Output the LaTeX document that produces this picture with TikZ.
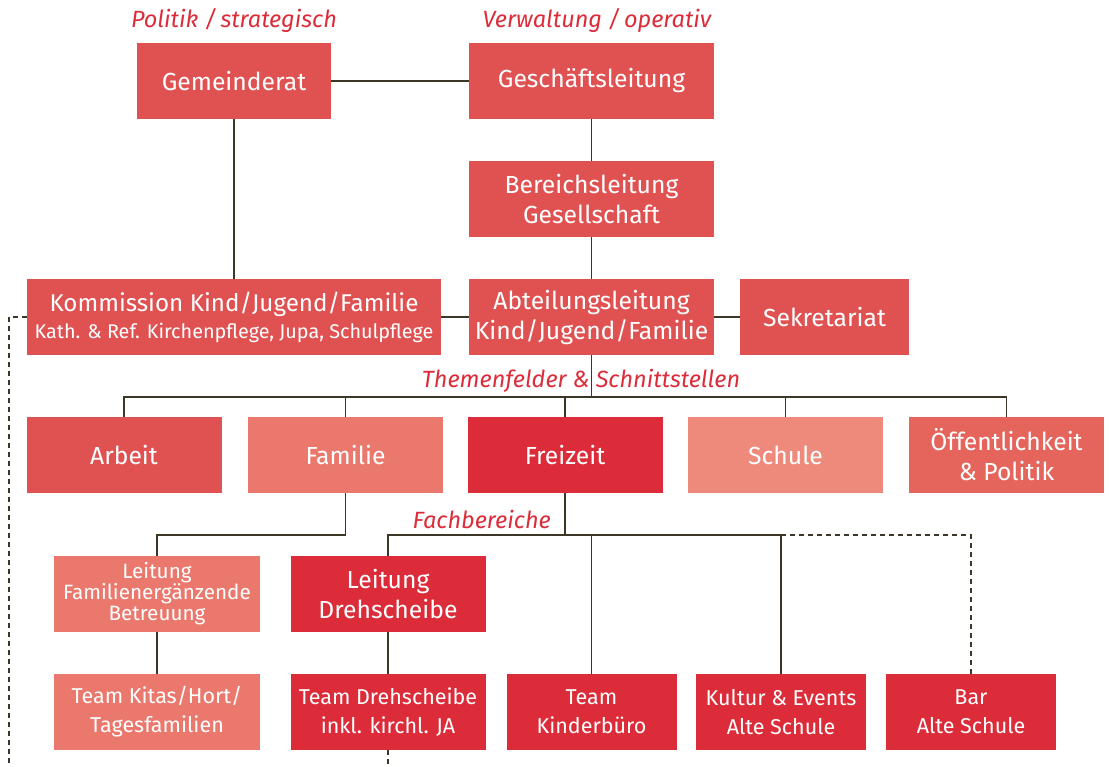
\documentclass[tikz,border=0pt]{standalone}
\usepackage{fontspec}
\setmainfont{Fira Sans}
\definecolor{cMain}{HTML}{E05252}
\definecolor{cFam}{HTML}{EB786D}
\definecolor{cFrei}{HTML}{DC2C39}
\definecolor{cSchule}{HTML}{EE8A7C}
\definecolor{cOeff}{HTML}{E5645C}
\definecolor{cLine}{HTML}{3B3626}
\definecolor{cLabel}{HTML}{DC2C39}
\tikzset{
  box/.style={rectangle, inner sep=0pt, text=white, align=center, minimum height=76pt,
    font=\fontsize{24.7}{30}\selectfont},
  small/.style={font=\fontsize{21.5}{29}\selectfont},
  lbl/.style={text=cLabel, font=\fontsize{23.5}{26}\selectfont\itshape, inner sep=0pt},
  conn/.style={draw=cLine, line width=1.5pt},
  dconn/.style={draw=cLine, line width=1.5pt, dash pattern=on 5pt off 4pt},
}
\begin{document}
\begin{tikzpicture}[x=1pt,y=-1pt]
\useasboundingbox (0,0) rectangle (1109,767);
% labels
\node[lbl] (lpol) at (234,21) {Politik /\,strategisch};
\node[lbl] (lver) at (597,21) {Verwaltung /\,operativ};
% top
\node[box, fill=cMain, minimum width=194pt] (gr) at (234,81) {Gemeinderat};
\node[box, fill=cMain, minimum width=245pt] (gl) at (591.5,81) {Geschäftsleitung};
\node[box, fill=cMain, minimum width=245pt] (bl) at (591.5,199) {Bereichsleitung\\Gesellschaft};
\node[box, fill=cMain, minimum width=414pt, font=\fontsize{24.2}{30}\selectfont] (ko) at (234,317) {Kommission Kind/Jugend/Familie\\[-3pt]{\fontsize{19.8}{24}\selectfont Kath. \& Ref. Kirchenpflege, Jupa, Schulpflege}};
\node[box, fill=cMain, minimum width=245pt] (al) at (591.5,317) {Abteilungsleitung\\Kind/Jugend/Familie};
\node[box, fill=cMain, minimum width=169pt] (se) at (824.5,317) {Sekretariat};
% Themenfelder
\node[lbl] (lthe) at (581,381) {Themenfelder \& Schnittstellen};
\node[box, fill=cMain, minimum width=195pt] (ar) at (124,455) {Arbeit};
\node[box, fill=cFam, minimum width=195pt] (fa) at (345.5,455) {Familie};
\node[box, fill=cFrei, minimum width=195pt] (fr) at (565,455) {Freizeit};
\node[box, fill=cSchule, minimum width=195pt] (sc) at (785.5,455) {Schule};
\node[box, fill=cOeff, minimum width=195pt] (oe) at (1006.5,455) {Öffentlichkeit\\\& Politik};
% Fachbereiche
\node[lbl, anchor=east] (lfach) at (551,519) {Fachbereiche};
\node[box, fill=cFam, minimum width=206pt, font=\fontsize{20.7}{21}\selectfont] (lf) at (157,594) {Leitung\\Familienergänzende\\Betreuung};
\node[box, fill=cFrei, minimum width=195pt] (ld) at (388,594) {Leitung\\Drehscheibe};
% bottom
\node[box, small, fill=cFam, minimum width=206pt] (tk) at (157,712) {Team Kitas/Hort/\\Tagesfamilien};
\node[box, small, fill=cFrei, minimum width=195pt] (td) at (388,712) {Team Drehscheibe\\inkl. kirchl. JA};
\node[box, small, fill=cFrei, minimum width=170pt] (tb) at (591.5,712) {Team\\Kinderbüro};
\node[box, small, fill=cFrei, minimum width=170pt] (ku) at (781,712) {Kultur \& Events\\Alte Schule};
\node[box, small, fill=cFrei, minimum width=170pt] (ba) at (971,712) {Bar\\Alte Schule};
% coordinates
\coordinate (bus1) at (591.5,397);
\coordinate (bus2) at (565,535);
\coordinate (fb) at (345.5,535);
\coordinate (dl) at (9,767);
\coordinate (db) at (388,767);
% connectors
\draw[conn] (gr.east) -- (gl.west);
\draw[conn] (gr.south) -- (ko.north);
\draw[conn] (gl.south) -- (bl.north);
\draw[conn] (bl.south) -- (al.north);
\draw[conn] (ko.east) -- (al.west);
\draw[conn] (al.east) -- (se.west);
\draw[conn] (al.south) -- (bus1);
\draw[conn] (ar.north) |- (bus1);
\draw[conn] (oe.north) |- (bus1);
\draw[conn] (fa.north) -- (fa.north |- bus1);
\draw[conn] (fr.north) -- (fr.north |- bus1);
\draw[conn] (sc.north) -- (sc.north |- bus1);
\draw[conn] (fr.south) -- (bus2);
\draw[conn] (ld.north) |- (bus2);
\draw[conn] (ku.north) |- (bus2);
\draw[conn] (tb.north) -- (tb.north |- bus2);
\draw[dconn] (ku.north |- bus2) -| (ba.north);
\draw[conn] (fa.south) -- (fb) -| (lf.north);
\draw[conn] (lf.south) -- (tk.north);
\draw[conn] (ld.south) -- (td.north);
\draw[dconn] (ko.west) -| (dl);
\draw[dconn] (td.south) -- (db);
\end{tikzpicture}
\end{document}
